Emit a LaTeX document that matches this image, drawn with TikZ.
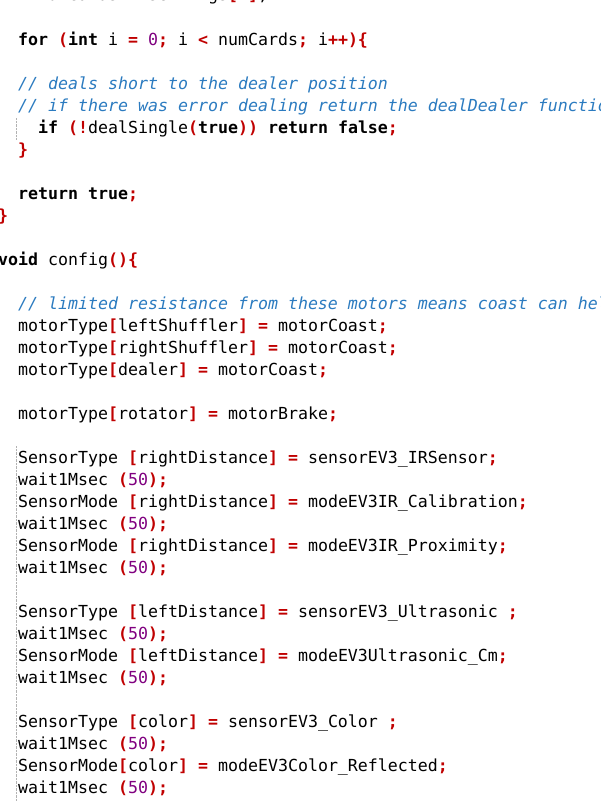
\documentclass[tikz,border=0pt]{standalone}
\usepackage{fontspec}
\setmonofont{DejaVu Sans Mono}
\definecolor{cr}{HTML}{C00000}
\definecolor{cn}{HTML}{800080}
\definecolor{cc}{HTML}{2B7BC0}
\newcommand\R[1]{\textcolor{cr}{\textbf{#1}}}
\newcommand\N[1]{\textcolor{cn}{#1}}
\newcommand\C[1]{\textcolor{cc}{\itshape #1}}
\newcommand\K[1]{\textbf{#1}}
\begin{document}
\begin{tikzpicture}[x=1pt,y=-1pt,
  code/.style={anchor=base west,inner sep=0pt,font=\ttfamily\fontsize{16.6}{20}\selectfont}]
\useasboundingbox[fill=white] (0,0) rectangle (601,801);
\draw[gray!60,densely dotted] (16,118) -- (16,140);
\draw[gray!60,densely dotted] (16,446) -- (16,801);
\node[code] (l0) at (-2,0) {\K{int} numCards \R{=} settings\R{[}\N{1}\R{]};};
\node[code] (l1) at (18,45) {\K{for} \R{(}\K{int} i \R{=} \N{0}\R{;} i \R{<} numCards\R{;} i\R{++)\{}};
\node[code] (l2) at (18,89) {\C{// deals short to the dealer position}};
\node[code] (l3) at (18,111) {\C{// if there was error dealing return the dealDealer function}};
\node[code] (l4) at (38,133) {\K{if} \R{(!}dealSingle\R{(}\K{true}\R{))} \K{return} \K{false}\R{;}};
\node[code] (l5) at (18,155) {\R{\}}};
\node[code] (l6) at (18,199) {\K{return} \K{true}\R{;}};
\node[code] (l7) at (-2,221) {\R{\}}};
\node[code] (l8) at (-2,265) {\K{void} config\R{()\{}};
\node[code] (l9) at (18,309) {\C{// limited resistance from these motors means coast can help}};
\node[code] (l10) at (18,331) {motorType\R{[}leftShuffler\R{]} \R{=} motorCoast\R{;}};
\node[code] (l11) at (18,353) {motorType\R{[}rightShuffler\R{]} \R{=} motorCoast\R{;}};
\node[code] (l12) at (18,375) {motorType\R{[}dealer\R{]} \R{=} motorCoast\R{;}};
\node[code] (l13) at (18,419) {motorType\R{[}rotator\R{]} \R{=} motorBrake\R{;}};
\node[code] (l14) at (18,463) {SensorType \R{[}rightDistance\R{]} \R{=} sensorEV3\_IRSensor\R{;}};
\node[code] (l15) at (18,485) {wait1Msec \R{(}\N{50}\R{);}};
\node[code] (l16) at (18,507) {SensorMode \R{[}rightDistance\R{]} \R{=} modeEV3IR\_Calibration\R{;}};
\node[code] (l17) at (18,529) {wait1Msec \R{(}\N{50}\R{);}};
\node[code] (l18) at (18,551) {SensorMode \R{[}rightDistance\R{]} \R{=} modeEV3IR\_Proximity\R{;}};
\node[code] (l19) at (18,573) {wait1Msec \R{(}\N{50}\R{);}};
\node[code] (l20) at (18,617) {SensorType \R{[}leftDistance\R{]} \R{=} sensorEV3\_Ultrasonic \R{;}};
\node[code] (l21) at (18,639) {wait1Msec \R{(}\N{50}\R{);}};
\node[code] (l22) at (18,661) {SensorMode \R{[}leftDistance\R{]} \R{=} modeEV3Ultrasonic\_Cm\R{;}};
\node[code] (l23) at (18,683) {wait1Msec \R{(}\N{50}\R{);}};
\node[code] (l24) at (18,727) {SensorType \R{[}color\R{]} \R{=} sensorEV3\_Color \R{;}};
\node[code] (l25) at (18,749) {wait1Msec \R{(}\N{50}\R{);}};
\node[code] (l26) at (18,771) {SensorMode\R{[}color\R{]} \R{=} modeEV3Color\_Reflected\R{;}};
\node[code] (l27) at (18,793) {wait1Msec \R{(}\N{50}\R{);}};
\end{tikzpicture}
\end{document}
